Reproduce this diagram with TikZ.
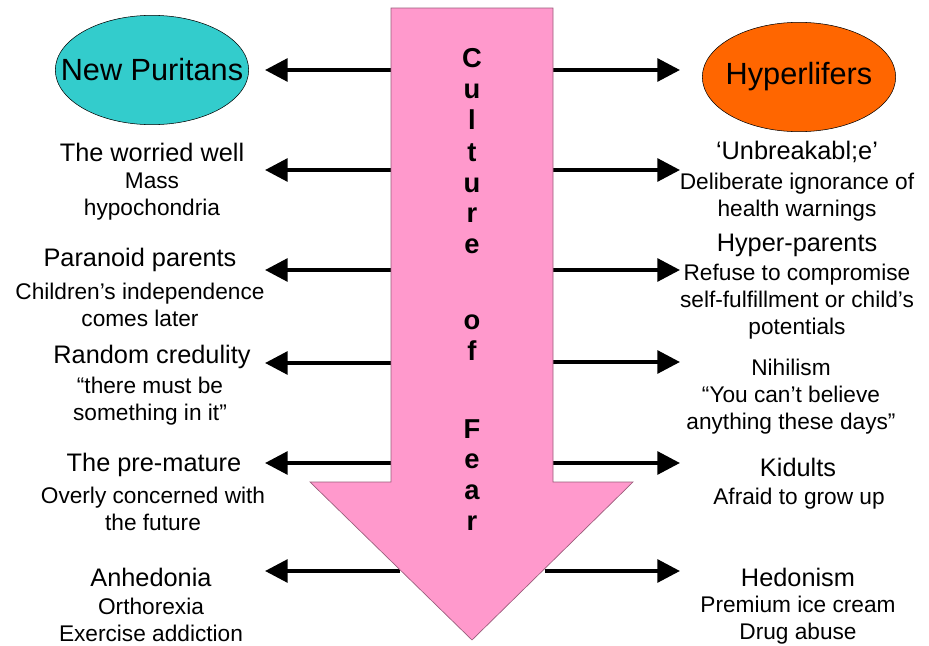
\documentclass[tikz,border=0pt]{standalone}
\usepackage{fontspec}
\setmainfont{Liberation Sans}
\usetikzlibrary{arrows.meta, shapes.geometric}
\definecolor{fearpink}{HTML}{FF99CC}
\definecolor{puritan}{HTML}{33CCCC}
\definecolor{hyper}{HTML}{FF6600}

\begin{document}
\begin{tikzpicture}[x=0.75pt, y=-0.75pt,
    link/.style={line width=3pt, -{Triangle[length=17pt, width=17pt]}},
    group/.style={ellipse, draw, minimum width=145pt, minimum height=82pt, inner sep=0pt},
    title/.style={inner sep=0pt, font=\fontsize{23}{27}\selectfont},
    head/.style={inner sep=0pt, font=\fontsize{19}{22}\selectfont},
    body/.style={inner sep=0pt, align=center, font=\fontsize{17}{20.25}\selectfont},
    letter/.style={inner sep=0pt, anchor=base, font=\fontsize{20.5}{24}\selectfont\bfseries}]
    \useasboundingbox (0,0) rectangle (929,646);
    % connectors first, the big arrow covers their inner ends
    \foreach \yl/\yr [count=\i] in {70/70, 170/170, 270/270, 363/362, 463/463, 571/571} {
        \coordinate (inL\i) at (400,\yl);
        \coordinate (outL\i) at (265,\yl);
        \coordinate (inR\i) at (545,\yr);
        \coordinate (outR\i) at (680,\yr);
        \draw[link] (inL\i) -- (outL\i);
        \draw[link] (inR\i) -- (outR\i);
    }
    % culture of fear
    \draw[fearpink!60!black, fill=fearpink, line width=0.5pt]
        (391,8) -- (553,8) -- (553,482) -- (633,482) -- (472,640) -- (310,482) -- (391,482) -- cycle;
    \foreach \c/\y [count=\k] in {C/67, u/98, l/129, t/161, u/192, r/222, e/253,
                                  o/329, f/360, F/438, e/468, a/499, r/530}
        \node[letter] (fear\k) at (472,\y) {\c};
    % left column
    \node[group, fill=puritan] (puritans) at (152,70) {};
    \node[title] (puritanstxt) at (puritans) {New Puritans};
    \node[head] (worried) at (152,152) {The worried well};
    \node[body] (worriedtxt) at (152,197) {Mass\\hypochondria};
    \node[head] (paranoid) at (140,260) {Paranoid parents};
    \node[body] (paranoidtxt) at (140,305) {Children’s independence\\comes later};
    \node[head] (credulity) at (152,357) {Random credulity};
    \node[body] (credulitytxt) at (150,401) {“there must be\\something in it”};
    \node[head] (premature) at (154,465) {The pre-mature};
    \node[body] (prematuretxt) at (153,509) {Overly concerned with\\the future};
    \node[head] (anhedonia) at (151,577) {Anhedonia};
    \node[body] (anhedoniatxt) at (151,620) {Orthorexia\\Exercise addiction};
    % right column
    \node[group, fill=hyper] (hyperlifers) at (799,77) {};
    \node[title] (hyperliferstxt) at (hyperlifers) {Hyperlifers};
    \node[head] (unbreak) at (797,152) {‘Unbreakabl;e’};
    \node[body] (unbreaktxt) at (797,197) {Deliberate ignorance of\\health warnings};
    \node[head] (hyperpar) at (797,245) {Hyper-parents};
    \node[body] (hyperpartxt) at (797,302) {Refuse to compromise\\self-fulfillment or child’s\\potentials};
    \node[body] (nihilism) at (791,397) {Nihilism\\“You can’t believe\\anything these days”};
    \node[head] (kidults) at (798,467) {Kidults};
    \node[body] (kidultstxt) at (799,499) {Afraid to grow up};
    \node[head] (hedonism) at (798,577) {Hedonism};
    \node[body] (hedonismtxt) at (798,620) {Premium ice cream\\Drug abuse};
\end{tikzpicture}
\end{document}
